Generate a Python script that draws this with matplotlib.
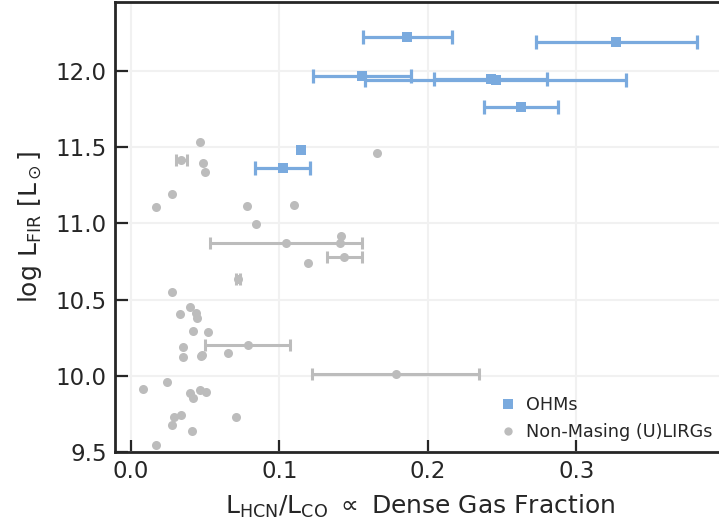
import numpy as np
import matplotlib.pyplot as plt
from matplotlib.lines import Line2D

# OH megamasers: dense gas fraction, log L_FIR, symmetric x error
ohm_x = [0.186, 0.327, 0.1556, 0.2424, 0.2458, 0.2628, 0.1143, 0.1021]
ohm_y = [12.22, 12.19, 11.965, 11.945, 11.94, 11.766, 11.482, 11.362]
ohm_xerr = [0.030, 0.054, 0.033, 0.038, 0.088, 0.025, 0.0, 0.0184]

# non-masing (U)LIRGs (0 = no error bar)
nm_x = [0.0462, 0.0339, 0.0487, 0.0500, 0.0274, 0.0166, 0.0779, 0.1096,
        0.0844, 0.1657, 0.1412, 0.1405, 0.1044, 0.1436, 0.1190, 0.0721,
        0.0274, 0.0397, 0.0436, 0.0444, 0.0332, 0.0418, 0.0521, 0.0786,
        0.0352, 0.0352, 0.0478, 0.0474, 0.0655, 0.1782, 0.0240, 0.0083,
        0.0397, 0.0415, 0.0462, 0.0507, 0.0287, 0.0335, 0.0709, 0.0274,
        0.0411, 0.0170]
nm_y = [11.536, 11.416, 11.395, 11.340, 11.191, 11.108, 11.115, 11.121,
        10.997, 11.462, 10.920, 10.870, 10.870, 10.776, 10.739, 10.634,
        10.549, 10.452, 10.413, 10.382, 10.402, 10.295, 10.284, 10.201,
        10.190, 10.120, 10.138, 10.127, 10.149, 10.013, 9.961, 9.911,
        9.884, 9.854, 9.906, 9.893, 9.731, 9.744, 9.729, 9.679,
        9.635, 9.546]
nm_xerr = [0, 0.0036, 0, 0, 0, 0, 0, 0,
           0, 0, 0, 0, 0.051, 0.0117, 0, 0.0015,
           0, 0, 0, 0, 0, 0, 0, 0.0287,
           0, 0, 0, 0, 0, 0.056, 0, 0,
           0, 0, 0, 0, 0, 0, 0, 0,
           0, 0]

blue = '#7aaade'
grey = '#bcbcbc'
dark = '#262626'

plt.rcParams['font.family'] = 'DejaVu Sans'
plt.rcParams['mathtext.default'] = 'regular'

fig = plt.figure(figsize=(7.19, 5.24), dpi=100)
ax = fig.add_axes([0.160, 0.1374, 0.848, 0.8588])

nm_x = np.array(nm_x)
nm_y = np.array(nm_y)
nm_xerr = np.array(nm_xerr)
has_err = nm_xerr > 0
ax.errorbar(nm_x[has_err], nm_y[has_err], xerr=nm_xerr[has_err], fmt='none',
            ecolor=grey, elinewidth=2.2, capsize=4, capthick=2.2, zorder=2)
ax.plot(nm_x, nm_y, 'o', color=grey, markersize=6.5, markeredgewidth=0, zorder=3)

ohm_x = np.array(ohm_x)
ohm_y = np.array(ohm_y)
ohm_xerr = np.array(ohm_xerr)
has_err = ohm_xerr > 0
ax.errorbar(ohm_x[has_err], ohm_y[has_err], xerr=ohm_xerr[has_err], fmt='none',
            ecolor=blue, elinewidth=2.3, capsize=5, capthick=2.3, zorder=4)
ax.plot(ohm_x, ohm_y, 's', color=blue, markersize=7.5, markeredgewidth=0, zorder=5)

ax.set_xlim(-0.0108, 0.40)
ax.set_ylim(9.5, 12.452)
ax.set_xticks([0.0, 0.1, 0.2, 0.3])
ax.set_yticks([9.5, 10.0, 10.5, 11.0, 11.5, 12.0])
ax.xaxis.set_major_formatter(plt.FormatStrFormatter('%.1f'))
ax.yaxis.set_major_formatter(plt.FormatStrFormatter('%.1f'))

ax.grid(True, color='#f1f1f1', linewidth=1.5, zorder=0)
ax.set_axisbelow(True)
for side in ax.spines.values():
    side.set_color(dark)
    side.set_linewidth(2)
ax.tick_params(direction='in', length=9, width=1.6, color=dark,
               labelsize=16.5, labelcolor=dark, pad=6)

ax.set_xlabel(r'L$_{\rm HCN}$/L$_{\rm CO}$ $\propto$ Dense Gas Fraction',
              fontsize=18, color=dark, labelpad=7)
ax.set_ylabel(r'log L$_{\rm FIR}$ [L$_\odot$]', fontsize=18, color=dark,
              labelpad=8)

handles = [
    Line2D([], [], linestyle='none', marker='s', color=blue,
           markersize=6.5, markeredgewidth=0),
    Line2D([], [], linestyle='none', marker='o', color=grey,
           markersize=6, markeredgewidth=0),
]
fig.legend(handles, ['OHMs', 'Non-Masing (U)LIRGs'], loc='lower left',
           bbox_to_anchor=(0.672, 0.128), frameon=False, fontsize=12.7,
           handlelength=1.0, handletextpad=0.55, labelspacing=0.5,
           labelcolor=dark)

fig.savefig('out.png', dpi=100)
